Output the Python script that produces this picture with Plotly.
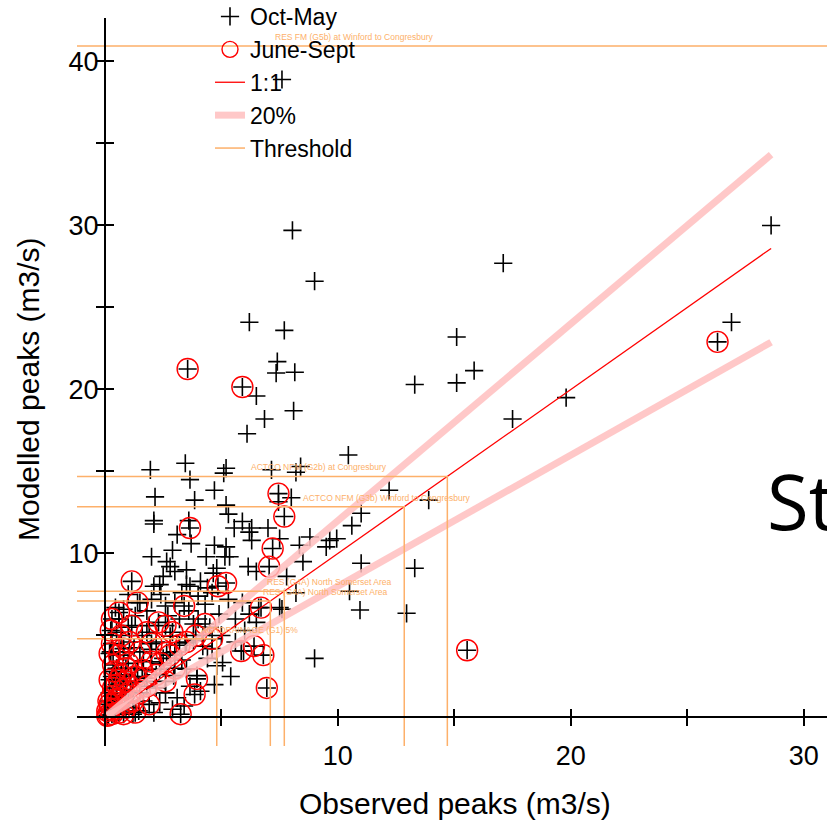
import plotly.graph_objects as go

# ---------------- data ----------------
# Oct-May events: observed vs modelled peaks (m3/s)
winter_obs = [7.6, 8.05, 9.0, 17.1, 28.6, 26.9, 15.1, 6.2, 7.7, 7.4, 7.35, 8.15, 6.5, 8.1, 6.85, 6.1,
              13.3, 15.85, 15.1, 17.5, 19.8, 10.45, 1.95, 3.45, 5.2, 8.4, 7.15, 3.65, 5.1, 4.7, 2.15,
              3.85, 5.2, 2.1, 2.1, 3.6, 3.1, 4.7, 4.35, 5.15, 2.65, 2.8, 4.8, 2.35, 3.5, 4.65, 8.2,
              8.0, 7.45, 5.3, 5.55, 5.9, 6.3, 7.0, 7.5, 8.8, 8.35, 9.65, 9.5, 5.2, 5.35, 6.2, 6.3,
              8.5, 6.15, 6.5, 7.8, 12.2, 13.9, 10.6, 11.0, 9.95, 11.0, 13.3, 10.95, 12.95, 10.5,
              9.0, 7.6, 8.2, 5.05, 0.45, 0.8, 2.1, 3.65, 4.3, 2.6, 7.5, 3.8, 3.2, 2.8, 3.45, 4.2,
              4.8, 3.95, 3.65, 2.35, 1.45, 5.95, 1.95, 1.65, 1.25, 2.35, 2.95, 3.5, 1.65,
              1.0, 1.3, 1.6, 1.8, 2.0, 2.4, 2.7, 3.0, 3.3, 3.6, 4.0, 4.4, 4.0, 4.5, 4.9, 5.3, 5.6,
              5.9, 6.2, 6.5, 3.0, 3.3, 3.8, 4.2, 4.6, 2.5, 2.2, 1.9, 1.4, 1.1, 1.8, 2.2, 2.6, 3.1,
              1.2, 0.9, 0.6, 0.7, 0.5, 0.8, 0.5, 1.5, 1.0, 0.6, 5.6, 6.0, 6.6, 5.0, 4.4, 5.4, 4.7,
              4.1, 3.4, 2.9, 2.1, 1.2, 0.4, 0.3, 0.2, 0.3, 0.25,
              2.5, 3.0, 3.5, 4.1, 4.6, 2.0, 2.9, 3.7]
winter_mod = [38.9, 29.7, 26.6, 27.7, 30.0, 24.1, 23.2, 24.1, 23.6, 21.7, 21.0, 21.05, 19.6, 18.7, 18.2, 17.3,
              20.3, 21.15, 20.4, 18.2, 19.5, 16.0, 15.1, 15.5, 15.2, 15.3, 15.1, 14.5, 14.9, 13.85, 13.45,
              13.25, 12.95, 12.0, 11.8, 12.0, 11.15, 10.5, 9.8, 9.8, 9.5, 9.2, 9.1, 8.1, 8.1, 8.8, 14.95,
              13.4, 13.15, 12.4, 11.55, 11.95, 11.55, 11.55, 10.9, 11.0, 10.5, 10.8, 10.4, 10.4, 9.8, 11.3, 10.8,
              9.5, 9.2, 8.9, 8.6, 13.85, 13.25, 11.7, 12.45, 10.9, 9.4, 9.1, 6.55, 6.35, 7.7,
              3.6, 6.6, 7.6, 3.35, 6.7, 6.6, 8.0, 8.0, 6.9, 6.8, 6.7, 5.7, 6.0, 4.95, 4.55, 4.35,
              3.15, 2.55, 1.9, 0.9, 0.4, 4.05, 4.15, 3.45, 4.25, 2.95, 2.55, 2.95, 1.0,
              5.5, 6.2, 5.0, 6.5, 7.2, 7.5, 6.2, 7.0, 7.6, 6.5, 7.4, 7.9, 6.0, 5.5, 6.3, 7.2, 6.0,
              7.0, 6.3, 5.8, 4.0, 3.5, 4.7, 5.0, 4.2, 3.6, 4.6, 5.6, 3.0, 2.5, 2.2, 1.8, 1.5, 1.2,
              1.6, 1.2, 0.8, 2.0, 3.0, 4.0, 5.2, 7.0, 7.5, 6.0, 4.6, 5.3, 6.7, 5.0, 3.6, 2.5, 2.0,
              1.6, 0.7, 0.5, 0.3, 0.2, 0.2, 0.6, 1.5, 2.5, 4.0,
              8.6, 8.9, 9.0, 8.3, 7.6, 9.8, 10.2, 10.6]

# June-Sept events: observed vs modelled peaks (m3/s)
summer_obs = [26.3, 15.55, 3.55, 5.9, 3.65, 7.45, 7.7, 7.2, 7.05, 5.2, 1.15, 6.95, 6.8, 6.4, 5.85, 6.7,
              3.25, 3.85, 3.95, 1.4, 1.15, 2.3, 3.4, 4.85, 2.65, 1.05, 4.3, 3.9, 4.6, 3.2, 2.9, 2.0,
              1.6, 1.0, 0.7, 0.5, 0.3, 0.2, 0.1, 0.15, 0.4, 0.6, 0.9, 1.2, 1.5, 1.8, 0.8, 0.35, 0.6,
              0.3, 0.9, 2.2, 2.6, 1.3, 0.5, 0.2, 1.9, 0.25, 0.7,
              0.1, 0.3, 0.2, 0.45, 0.7, 0.35, 0.6, 0.4, 0.9, 1.3, 1.1, 1.7, 2.4, 2.8, 3.5, 3.0,
              2.0, 1.5, 1.8, 2.6, 0.8, 1.0, 0.15, 0.3, 0.6, 0.2, 0.8]
summer_mod = [22.9, 4.1, 21.25, 20.15, 11.55, 13.65, 12.25, 10.3, 9.2, 8.2, 8.3, 1.8, 3.8, 4.35, 4.05, 6.7,
              0.2, 1.4, 2.35, 7.0, 5.6, 5.8, 6.8, 8.0, 3.95, 4.6, 5.7, 5.0, 4.8, 4.4, 5.2, 3.4,
              2.9, 3.3, 2.6, 2.0, 1.3, 0.8, 0.4, 0.15, 0.5, 0.3, 0.6, 1.0, 1.5, 1.9, 1.7, 3.2, 3.8,
              4.5, 2.2, 2.6, 2.2, 0.3, 1.1, 2.3, 0.8, 5.3, 5.0,
              0.1, 0.2, 0.5, 0.9, 1.2, 1.8, 2.3, 2.8, 3.0, 2.5, 1.6, 2.4, 3.3, 3.8, 4.6, 3.0,
              4.5, 4.0, 5.2, 5.6, 0.2, 0.9, 1.0, 6.0, 6.4, 3.9, 4.2]

# flood thresholds (m3/s) and their names
thresholds = [4.8, 7.1, 7.7, 12.85, 14.7, 40.95]
threshold_names = ["AGRDRAINAGE (G1) 5%",
                   "RES (G4A) North Somerset Area",
                   "RES (G4A) North Somerset Area",
                   "ACTCO NFM (G3b) Winford to Congresbury",
                   "ACTCO NFM (G2b) at Congresbury",
                   "RES FM (G5b) at Winford to Congresbury"]

x_tick_vals = [0, 5, 10, 15, 20, 25, 30]
x_tick_text = ["", "", "10", "", "20", "", "30"]
y_tick_vals = [0, 5, 10, 15, 20, 25, 30, 35, 40]
y_tick_text = ["", "", "10", "", "20", "", "30", "", "40"]

# ---------------- layout constants ----------------
W, H = 827, 825
ML, MR, MT, MB = 77, 0, 18, 79
PW, PH = W - ML - MR, H - MT - MB
X_RANGE = [-1.2, 31.0]
Y_RANGE = [-1.74, 42.65]
label_x = [6.2, 9.45, 9.65, 12.1, 9.2, 10.7]   # where the threshold names sit

FONT = "Liberation Sans, Arial, Helvetica, sans-serif"
ORANGE = "#FDB06A"
PINK = "rgba(255,190,190,0.85)"


def px_x(p):
    return (p - ML) / PW


def px_y(p):
    return (H - MB - p) / PH


fig = go.Figure()

# Oct-May crosses
fig.add_trace(go.Scatter(x=winter_obs, y=winter_mod, mode="markers", name="Oct-May",
                         marker=dict(symbol="cross-thin-open", size=13, color="black",
                                     line=dict(color="black", width=1.6))))
# June-Sept crosses (no legend) + circles
fig.add_trace(go.Scatter(x=summer_obs, y=summer_mod, mode="markers", showlegend=False,
                         marker=dict(symbol="cross-thin-open", size=13, color="black",
                                     line=dict(color="black", width=1.6))))
fig.add_trace(go.Scatter(x=summer_obs, y=summer_mod, mode="markers", name="June-Sept",
                         marker=dict(symbol="circle-open", size=21, color="red",
                                     line=dict(color="red", width=1.4))))

all_obs = winter_obs + summer_obs
lo, hi = min(all_obs), max(all_obs)
fig.add_trace(go.Scatter(x=[lo, hi], y=[lo, hi], mode="lines", name="1:1",
                         line=dict(color="red", width=1.3)))
fig.add_trace(go.Scatter(x=[lo, hi, None, lo, hi], y=[1.2 * lo, 1.2 * hi, None, 0.8 * lo, 0.8 * hi],
                         mode="lines", name="20%", line=dict(color=PINK, width=7)))

tx, ty = [], []
for t in thresholds:
    tx += [X_RANGE[0], t, t, None]
    ty += [t, t, Y_RANGE[0], None]
fig.add_trace(go.Scatter(x=tx, y=ty, mode="lines", name="Threshold",
                         line=dict(color=ORANGE, width=1.5)))

# dummy trace for the overlaid (inward tick) axes
fig.add_trace(go.Scatter(x=[], y=[], xaxis="x2", yaxis="y2", showlegend=False, hoverinfo="skip"))

for t, name, lx in zip(thresholds, threshold_names, label_x):
    fig.add_annotation(x=lx, y=t, text=name, showarrow=False, yanchor="bottom", yshift=2,
                       font=dict(family=FONT, size=8.5, color=ORANGE))

xpos = (0 - Y_RANGE[0]) / (Y_RANGE[1] - Y_RANGE[0])
ypos = (0 - X_RANGE[0]) / (X_RANGE[1] - X_RANGE[0])

axis_common = dict(showgrid=False, zeroline=False, tickmode="array",
                   tickcolor="black", tickwidth=1.6, ticklen=8)

fig.update_layout(
    width=W, height=H, margin=dict(l=ML, r=MR, t=MT, b=MB, autoexpand=False),
    paper_bgcolor="white", plot_bgcolor="white",
    font=dict(family=FONT, color="black"),
    xaxis=dict(range=X_RANGE, anchor="free", position=xpos, showline=True, linecolor="black",
               linewidth=2, ticks="outside", tickvals=x_tick_vals, ticktext=x_tick_text,
               tickfont=dict(size=27, family=FONT, color="black"), ticklabelstandoff=6,
               **axis_common),
    yaxis=dict(range=Y_RANGE, anchor="free", position=ypos, showline=True, linecolor="black",
               linewidth=2, ticks="outside", tickvals=y_tick_vals, ticktext=y_tick_text,
               tickfont=dict(size=27, family=FONT, color="black"), ticklabelstandoff=-8,
               **axis_common),
    xaxis2=dict(range=X_RANGE, overlaying="x", anchor="free", position=xpos, showline=False,
                ticks="inside", tickvals=x_tick_vals, showticklabels=False, **axis_common),
    yaxis2=dict(range=Y_RANGE, overlaying="y", anchor="free", position=ypos, showline=False,
                ticks="inside", tickvals=y_tick_vals, showticklabels=False, **axis_common),
    showlegend=True,
    legend=dict(x=px_x(210), y=px_y(-5), xanchor="left", yanchor="top", bgcolor="rgba(0,0,0,0)",
                font=dict(family=FONT, size=23, color="black"), traceorder="normal"),
)

# axis titles
fig.add_annotation(xref="paper", yref="paper", x=px_x(455), y=px_y(803),
                   text="Observed peaks (m3/s)", showarrow=False,
                   font=dict(family=FONT, size=30, color="black"), xanchor="center", yanchor="middle")
fig.add_annotation(xref="paper", yref="paper", x=px_x(28), y=px_y(390),
                   text="Modelled peaks (m3/s)", showarrow=False,
                   textangle=-90, font=dict(family=FONT, size=30, color="black"),
                   xanchor="center", yanchor="middle")
# slide text partly visible at right edge
fig.add_annotation(xref="paper", yref="paper", x=px_x(765), y=px_y(500),
                   text="St", showarrow=False,
                   font=dict(family="Open Sans, Noto Sans, sans-serif", size=76, color="black"),
                   xanchor="left", yanchor="middle")

# remove the page's default body margin so the figure sits at the window's top-left corner
fig.write_html("out.html", config={"displayModeBar": False},
               post_script="document.body.style.margin='0';")
